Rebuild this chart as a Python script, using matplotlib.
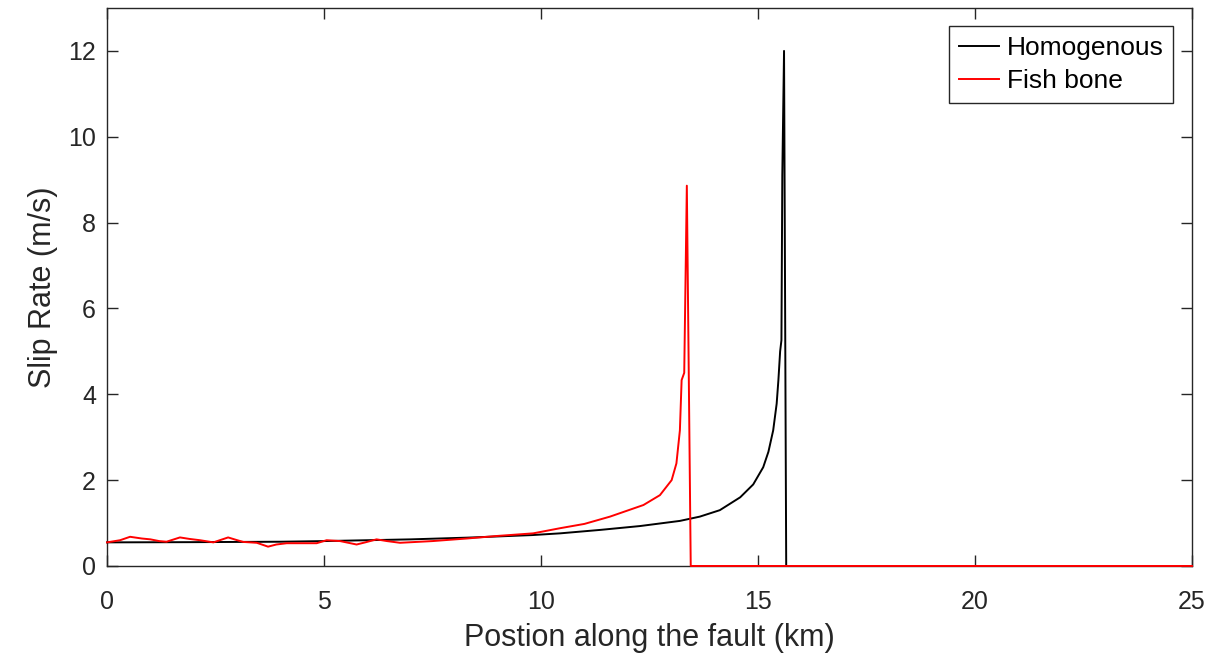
import matplotlib
matplotlib.use("Agg")
import matplotlib.pyplot as plt

plt.rcParams['font.family'] = ['Liberation Sans', 'DejaVu Sans']

# homogenous fault: position (km) and slip rate (m/s)
homo_x = [0, 2, 4, 5, 6, 7, 8.3, 9.8, 10.44, 11.36, 12.28, 13.2, 13.66, 14.12,
          14.59, 14.89, 15.12, 15.24, 15.35, 15.43, 15.47, 15.51, 15.54, 15.56,
          15.60, 15.65, 20, 25]
homo_y = [0.55, 0.555, 0.565, 0.58, 0.6, 0.62, 0.66, 0.72, 0.76, 0.84, 0.93, 1.05,
          1.15, 1.3, 1.6, 1.9, 2.3, 2.66, 3.16, 3.78, 4.33, 5.0, 5.26, 9.1,
          12.0, 0, 0, 0]

# fish bone fault
fish_x = [0, 0.3, 0.53, 0.8, 1.0, 1.2, 1.37, 1.68, 1.9, 2.14, 2.45, 2.79, 3.0,
          3.14, 3.45, 3.71, 3.9, 4.14, 4.5, 4.83, 5.06, 5.37, 5.75, 5.95, 6.21,
          6.45, 6.75, 7.5, 8.29, 9.0, 9.82, 10.44, 11.0, 11.59, 12.36, 12.74,
          13.01, 13.12, 13.2, 13.24, 13.3, 13.36, 13.45, 20, 25]
fish_y = [0.55, 0.6, 0.68, 0.64, 0.62, 0.58, 0.565, 0.665, 0.63, 0.60, 0.55, 0.665,
          0.6, 0.56, 0.54, 0.45, 0.5, 0.53, 0.53, 0.53, 0.60, 0.58, 0.50, 0.55,
          0.62, 0.58, 0.54, 0.58, 0.64, 0.7, 0.76, 0.88, 0.98, 1.15, 1.42, 1.65,
          2.0, 2.39, 3.16, 4.33, 4.5, 8.86, 0, 0, 0]

fig = plt.figure(figsize=(12.32, 6.54), dpi=100)
ax = fig.add_axes([0.0869, 0.1346, 0.8806, 0.8532])

ax.plot(homo_x, homo_y, color='black', lw=1.4, label='Homogenous',
        zorder=3, clip_on=False)
ax.plot(fish_x, fish_y, color='red', lw=1.4, label='Fish bone',
        zorder=3, clip_on=False)

ax.set_xlim(0, 25)
ax.set_ylim(0, 13)
ax.set_xticks([0, 5, 10, 15, 20, 25])
ax.set_yticks([0, 2, 4, 6, 8, 10, 12])
ax.tick_params(direction='in', length=8, width=1, top=True, right=True,
               labelsize=18, colors='#262626')
ax.tick_params(axis='x', pad=17)
ax.tick_params(axis='y', pad=8)
for s in ax.spines.values():
    s.set_color('#262626')
    s.set_linewidth(1)

ax.set_xlabel('Postion along the fault (km)', fontsize=22, color='#262626',
              labelpad=7)
ax.set_ylabel('Slip Rate (m/s)', fontsize=22, color='#262626', labelpad=7)

leg = ax.legend(loc='upper right', fontsize=19, fancybox=False, framealpha=1,
                edgecolor='#262626', handlelength=1.55, borderaxespad=0.7,
                handletextpad=0.27, borderpad=0.38, labelspacing=0.34)
leg.get_frame().set_linewidth(1)

fig.savefig('out.png', dpi=100)
